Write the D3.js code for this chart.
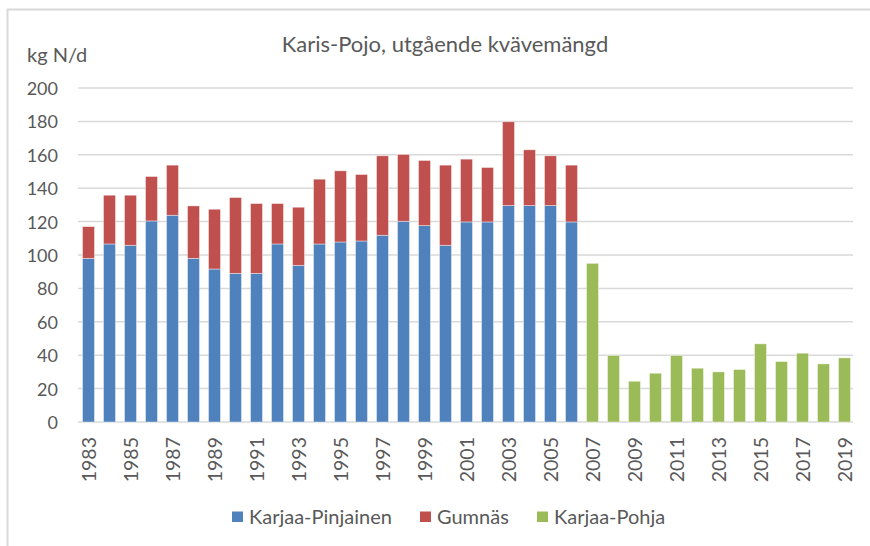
<!DOCTYPE html>
<html><head><meta charset="utf-8">
<script src="https://cdn.jsdelivr.net/npm/d3@7"></script>
<style>
body{margin:0;background:#fff;}
text{font-family:Lato,"Open Sans",Arial,sans-serif;fill:#595959;}
</style></head>
<body><svg id="c" width="870" height="546"></svg>
<script>
const years = d3.range(1983, 2020).map(String);
const pinjainen = [98,106.6,105.8,120.4,123.8,98,91.6,89,89,106.6,93.8,106.6,107.8,108.4,111.8,120.2,117.6,105.8,119.8,119.8,129.6,129.6,129.6,119.8,0,0,0,0,0,0,0,0,0,0,0,0,0];
const gumnasTotal = [117,135.8,135.8,147,153.8,129.4,127.4,134.4,130.8,130.8,128.6,145.4,150.4,148.2,159.4,160.2,156.6,153.8,157.4,152.4,179.8,163,159.4,153.8,0,0,0,0,0,0,0,0,0,0,0,0,0];
const gumnas = gumnasTotal.map((t,i)=> t>0 ? +(t - pinjainen[i]).toFixed(1) : 0);
const pohja = [0,0,0,0,0,0,0,0,0,0,0,0,0,0,0,0,0,0,0,0,0,0,0,0,95,39.8,24.4,29.2,39.8,32.2,30,31.4,46.8,36.2,41.2,34.8,38.4];
const seriesNames = ["Karjaa-Pinjainen","Gumnäs","Karjaa-Pohja"];
const colors = ["#4F81BD","#C0504D","#9BBB59"];
const yTicks = [0,20,40,60,80,100,120,140,160,180,200];
const title = "Karis-Pojo, utgående kvävemängd";
const yTitle = "kg N/d";

const svg = d3.select("#c");
svg.append("path").attr("d","M7.5,546 L7.5,9.5 L870,9.5").attr("fill","none").attr("stroke","#D9D9D9").attr("stroke-width",2);

const x = d3.scaleBand().domain(years).range([78,855]).paddingInner(0.43).paddingOuter(0.215);
const y = d3.scaleLinear().domain([0,200]).range([422,88]);

svg.append("g").selectAll("line").data(yTicks).join("line")
  .attr("x1",78).attr("x2",853).attr("y1",d=>y(d)).attr("y2",d=>y(d))
  .attr("stroke","#D9D9D9").attr("stroke-width",1.5);

const yAxis = d3.axisLeft(y).tickValues(yTicks).tickSize(0).tickPadding(0);
const ga = svg.append("g").attr("transform","translate(58,0)").call(yAxis);
ga.select(".domain").remove();
ga.selectAll("text").attr("font-size",18).style("fill","#595959").attr("font-family",null).attr("dy","0.36em");

const data = years.map((yr,i)=>({year:yr,"Karjaa-Pinjainen":pinjainen[i],"Gumnäs":gumnas[i],"Karjaa-Pohja":pohja[i]}));
const stack = d3.stack().keys(seriesNames)(data);
svg.append("g").selectAll("g").data(stack).join("g").attr("fill",(d,i)=>colors[i])
  .selectAll("rect").data(d=>d.filter(p=>p[1]-p[0]>0)).join("rect")
  .attr("x",d=>x(d.data.year)).attr("width",x.bandwidth())
  .attr("y",d=>y(d[1])).attr("height",d=>y(d[0])-y(d[1]))
  .attr("stroke","#fff").attr("stroke-opacity",0.5).attr("stroke-width",0.8);

const xLabels = years.filter((d,i)=>i%2===0);
const xAxis = d3.axisBottom(x).tickValues(xLabels).tickSize(0).tickPadding(0);
const gx = svg.append("g").attr("transform","translate(0,437)").call(xAxis);
gx.select(".domain").remove();
gx.selectAll("text").attr("font-size",19.5).style("fill","#595959").attr("font-family",null)
  .attr("transform","rotate(-90)").attr("text-anchor","end").attr("x",0).attr("y",0).attr("dy","0.36em");

svg.append("text").attr("x",445).attr("y",52).attr("text-anchor","middle").attr("font-size",22).text(title);
svg.append("text").attr("x",27).attr("y",62).attr("font-size",20).text(yTitle);

const legX = [232,420,537];
const lg = svg.append("g");
seriesNames.forEach((n,i)=>{
  lg.append("rect").attr("x",legX[i]).attr("y",511.5).attr("width",11).attr("height",10.5).attr("fill",colors[i]);
  lg.append("text").attr("x",legX[i]+17).attr("y",517).attr("dy","0.36em").attr("font-size",20).text(n);
});
</script></body></html>
